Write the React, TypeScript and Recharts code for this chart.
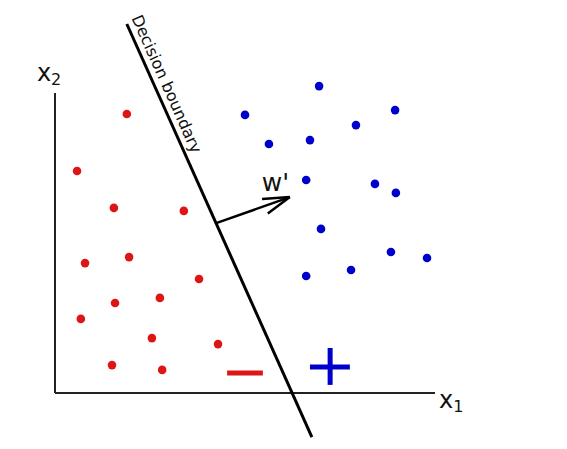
import {
    ReferenceDot,
    ReferenceLine,
    Scatter,
    ScatterChart,
    XAxis,
    YAxis,
} from 'recharts';

type Pt = { x: number; y: number };

// class "-" samples (red)
const negPoints: Pt[] = [
    { x: 1.89, y: 9.3 },
    { x: 0.58, y: 7.4 },
    { x: 1.55, y: 6.17 },
    { x: 3.39, y: 6.07 },
    { x: 0.79, y: 4.33 },
    { x: 1.95, y: 4.53 },
    { x: 3.79, y: 3.8 },
    { x: 1.58, y: 3.0 },
    { x: 2.76, y: 3.17 },
    { x: 0.68, y: 2.47 },
    { x: 2.55, y: 1.83 },
    { x: 4.29, y: 1.63 },
    { x: 1.5, y: 0.93 },
    { x: 2.82, y: 0.77 },
];

// class "+" samples (blue)
const posPoints: Pt[] = [
    { x: 6.95, y: 10.23 },
    { x: 5.0, y: 9.27 },
    { x: 8.95, y: 9.43 },
    { x: 7.92, y: 8.93 },
    { x: 5.63, y: 8.3 },
    { x: 6.71, y: 8.43 },
    { x: 6.61, y: 7.1 },
    { x: 8.42, y: 6.97 },
    { x: 8.97, y: 6.67 },
    { x: 7.0, y: 5.47 },
    { x: 8.84, y: 4.7 },
    { x: 9.79, y: 4.5 },
    { x: 6.61, y: 3.9 },
    { x: 7.79, y: 4.1 },
];

const xAxisLine: Pt[] = [{ x: 0, y: 0 }, { x: 10, y: 0 }];
const yAxisLine: Pt[] = [{ x: 0, y: 0 }, { x: 0, y: 10 }];
const boundary: Pt[] = [{ x: 1.89, y: 12.3 }, { x: 6.76, y: -1.47 }];

const wShaft: Pt[] = [{ x: 4.26, y: 5.67 }, { x: 6.18, y: 6.53 }];
const wHeadUpper: Pt[] = [{ x: 5.45, y: 6.47 }, { x: 6.18, y: 6.53 }];
const wHeadLower: Pt[] = [{ x: 5.6, y: 5.98 }, { x: 6.18, y: 6.53 }];

const minusBar: Pt[] = [{ x: 4.53, y: 0.67 }, { x: 5.47, y: 0.67 }];
const plusH: Pt[] = [{ x: 6.71, y: 0.87 }, { x: 7.76, y: 0.87 }];
const plusV: Pt[] = [{ x: 7.24, y: 1.5 }, { x: 7.24, y: 0.27 }];

const xLabelPos: Pt = { x: 10.13, y: -0.53 };
const yLabelPos: Pt = { x: -0.45, y: 10.37 };
const wLabelPos: Pt = { x: 5.47, y: 6.7 };
const boundaryLabelPos: Pt = { x: 2.03, y: 12.47 };

const X_DOMAIN = [-55 / 38, 512 / 38];
const Y_DOMAIN = [-56 / 30, 393 / 30];

const RED = '#dd1515';
const BLUE = '#0000cc';
const FONT = 'DejaVu Sans, sans-serif';

const dot = (color: string) => (p: any) => (
    <circle cx={p.cx} cy={p.cy} r={4.3} fill={color} />
);

const seg = (s: Pt[]) => s.map((p) => ({ x: p.x, y: p.y }));

function Sub({ main, sub }: { main: string; sub: string }) {
    return (p: any) => (
        <text x={p.viewBox.x} y={p.viewBox.y} fontFamily={FONT} fontSize={24} fill="#111">
            {main}
            <tspan fontSize={16} dy={4}>
                {sub}
            </tspan>
        </text>
    );
}

export default function App() {
    return (
        <div style={{ position: 'absolute', left: 0, top: 0, background: '#fff' }}>
            <ScatterChart
                width={567}
                height={449}
                margin={{ top: 0, right: 0, bottom: 0, left: 0 }}
            >
                <XAxis type="number" dataKey="x" domain={X_DOMAIN} allowDataOverflow hide />
                <YAxis type="number" dataKey="y" domain={Y_DOMAIN} allowDataOverflow hide />

                <ReferenceLine segment={seg(xAxisLine)} stroke="#222" strokeWidth={2} />
                <ReferenceLine segment={seg(yAxisLine)} stroke="#222" strokeWidth={2} />
                <ReferenceLine segment={seg(boundary)} stroke="#000" strokeWidth={3} />

                <ReferenceLine segment={seg(wShaft)} stroke="#000" strokeWidth={2.5} />
                <ReferenceLine segment={seg(wHeadUpper)} stroke="#000" strokeWidth={2.5} />
                <ReferenceLine segment={seg(wHeadLower)} stroke="#000" strokeWidth={2.5} />

                <ReferenceLine segment={seg(minusBar)} stroke={RED} strokeWidth={5} />
                <ReferenceLine segment={seg(plusH)} stroke={BLUE} strokeWidth={5} />
                <ReferenceLine segment={seg(plusV)} stroke={BLUE} strokeWidth={5} />

                <Scatter data={negPoints} shape={dot(RED)} isAnimationActive={false} />
                <Scatter data={posPoints} shape={dot(BLUE)} isAnimationActive={false} />

                <ReferenceDot
                    x={xLabelPos.x}
                    y={xLabelPos.y}
                    r={1}
                    fill="none"
                    stroke="none"
                    label={{ content: Sub({ main: 'x', sub: '1' }) }}
                />
                <ReferenceDot
                    x={yLabelPos.x}
                    y={yLabelPos.y}
                    r={1}
                    fill="none"
                    stroke="none"
                    label={{ content: Sub({ main: 'x', sub: '2' }) }}
                />
                <ReferenceDot
                    x={wLabelPos.x}
                    y={wLabelPos.y}
                    r={1}
                    fill="none"
                    stroke="none"
                    label={{
                        content: (p: any) => (
                            <text x={p.viewBox.x} y={p.viewBox.y} fontFamily={FONT} fontSize={25} fill="#111">
                                w'
                            </text>
                        ),
                    }}
                />
                <ReferenceDot
                    x={boundaryLabelPos.x}
                    y={boundaryLabelPos.y}
                    r={1}
                    fill="none"
                    stroke="none"
                    label={{
                        content: (p: any) => (
                            <text
                                x={p.viewBox.x}
                                y={p.viewBox.y}
                                fontFamily={FONT}
                                fontSize={16}
                                fill="#111"
                                transform={`rotate(65.9 ${p.viewBox.x} ${p.viewBox.y})`}
                            >
                                Decision boundary
                            </text>
                        ),
                    }}
                />
            </ScatterChart>
        </div>
    );
}
